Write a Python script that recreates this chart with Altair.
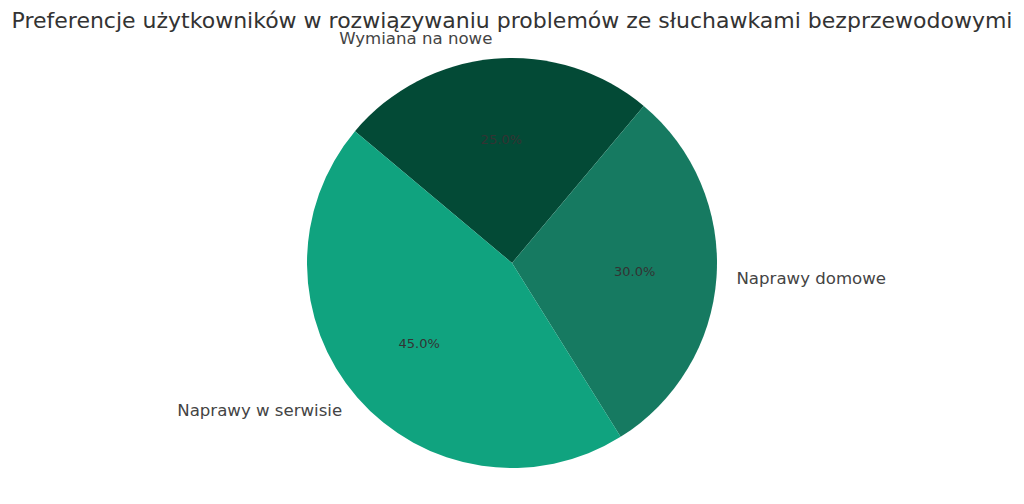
import math
import altair as alt
import pandas as pd

categories = ["Wymiana na nowe", "Naprawy domowe", "Naprawy w serwisie"]
values = [25, 30, 45]
colors = ["#034a36", "#167a61", "#10a37f"]
left_labels = ["Naprawy domowe"]

total = sum(values)
df = pd.DataFrame({
    "cat": categories,
    "val": values,
    "ord": list(range(len(categories))),
    "pct": [f"{v / total * 100:.1f}%" for v in values],
    "lab_left": [c if c in left_labels else "" for c in categories],
    "lab_right": [c if c not in left_labels else "" for c in categories],
})

start = math.radians(310)
theta = alt.Theta("val:Q", stack=True,
                  scale=alt.Scale(range=[start, start + 2 * math.pi]))
order = alt.Order("ord:Q", sort="ascending")

base = alt.Chart(df).encode(theta=theta, order=order)

arcs = base.mark_arc(outerRadius=205, stroke=None).encode(
    color=alt.Color("cat:N", scale=alt.Scale(domain=categories, range=colors), legend=None)
)
pct = base.mark_text(radius=123, fontSize=13, font="DejaVu Sans", color="#333333",
                     align="center", baseline="middle").encode(text="pct:N")
lab_r = base.mark_text(radius=225, fontSize=16.6, font="DejaVu Sans", color="#444444",
                       align="right", baseline="middle").encode(text="lab_right:N")
lab_l = base.mark_text(radius=225, fontSize=16.6, font="DejaVu Sans", color="#444444",
                       align="left", baseline="middle").encode(text="lab_left:N")

chart = alt.layer(arcs, pct, lab_r, lab_l).properties(
    width=1008, height=410,
    autosize=alt.AutoSizeParams(type="none"),
    padding={"left": 0, "top": 50, "right": 0, "bottom": 0},
    title=alt.Title("Preferencje użytkowników w rozwiązywaniu problemów ze słuchawkami bezprzewodowymi",
                    fontSize=22, font="DejaVu Sans", fontWeight="normal", color="#333333",
                    anchor="middle", offset=8, dy=10),
).configure_view(stroke=None)

chart.save("out.html", embed_options={"renderer": "svg", "actions": False})
